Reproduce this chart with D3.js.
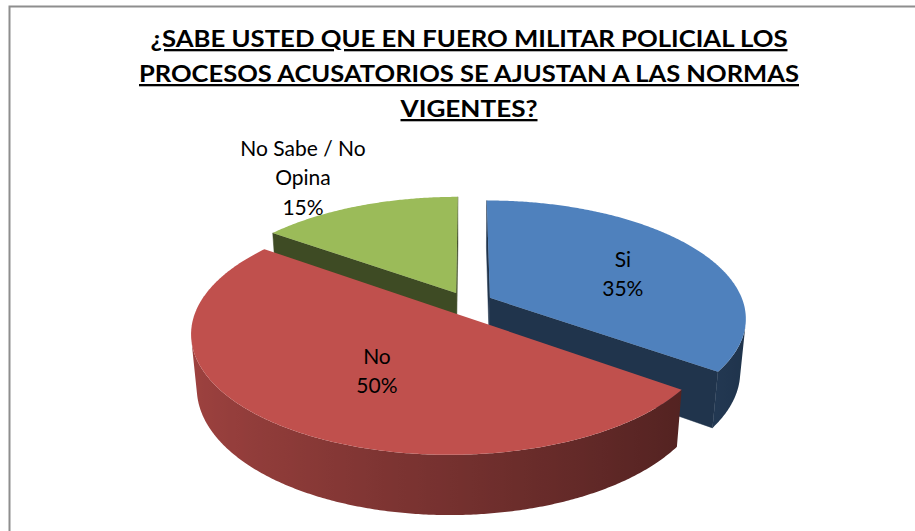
<!DOCTYPE html>
<html>
<head>
<meta charset="utf-8">
<script src="https://cdn.jsdelivr.net/npm/d3@7"></script>
<style>
  html, body { margin: 0; padding: 0; background: #fff; }
  svg { display: block; }
</style>
</head>
<body>
<div id="chart"></div>
<script>
// Survey answers, 3D exploded pie

const titleLines = [
    "¿SABE USTED QUE EN FUERO MILITAR POLICIAL LOS",
    "PROCESOS ACUSATORIOS SE AJUSTAN A LAS NORMAS",
    "VIGENTES?"
];
const categories = ["Si", "No", "No Sabe / No Opina"];
const categoryLines = [["Si"], ["No"], ["No Sabe / No", "Opina"]];
const values = [35, 50, 15];
const topColors = ["#4F81BD", "#C0504D", "#9BBB59"];

function createPieChart() {
    const width = 915, height = 531;

    d3.select("#chart").html("");

    const svg = d3.select("#chart")
        .append("svg")
        .attr("width", width)
        .attr("height", height);
    const defs = svg.append("defs");

    // chart area border (only left and top edges show in the crop)
    svg.append("rect")
        .attr("x", 9.5)
        .attr("y", 6.5)
        .attr("width", width + 20)
        .attr("height", height + 20)
        .attr("fill", "none")
        .attr("stroke", "#8e8e8e")
        .attr("stroke-width", 2);

    // Title, each line stretched to the width it has in the original
    const titleWidths = [637, 660, 137];
    const title = svg.append("text")
        .attr("text-anchor", "middle")
        .style("font-family", "Lato, 'Open Sans', sans-serif")
        .style("font-size", "23px")
        .style("font-weight", "bold")
        .style("text-decoration", "underline")
        .attr("fill", "#000");
    titleLines.forEach((t, i) => {
        title.append("tspan")
            .attr("x", 469)
            .attr("y", 47 + i * 35)
            .attr("textLength", titleWidths[i])
            .attr("lengthAdjust", "spacingAndGlyphs")
            .text(t);
    });

    // projection of the tilted pie (unit radius) onto the page
    const view = {cx: 467.5, cy: 303, f: 1357, dist: 5.35, tilt: 27 * Math.PI / 180, depth: 0.2376, explode: 0.1};
    const sinT = Math.sin(view.tilt), cosT = Math.cos(view.tilt);
    function project(X, Y, Z) {
        const yc = Y * cosT + Z * sinT;
        const zc = view.dist + Z * cosT - Y * sinT;
        return [view.cx + view.f * X / zc, view.cy - view.f * yc / zc];
    }

    const pie = d3.pie().sort(null).value(d => d)(values);
    const total = d3.sum(values);
    const pct = d3.format(".0%");

    const slices = pie.map((p, i) => {
        const mid = (p.startAngle + p.endAngle) / 2;
        return {
            i: i,
            a0: p.startAngle,
            a1: p.endAngle,
            mid: mid,
            ox: view.explode * Math.sin(mid),
            oz: view.explode * Math.cos(mid)
        };
    });

    const line = d3.line();
    const shade = (c, k) => {
        const col = d3.rgb(c);
        return d3.rgb(col.r * k, col.g * k, col.b * k).formatHex();
    };
    const wallLight = a => Math.max(0.3, Math.min(0.9, 0.61 - 0.22 * Math.sin(a)));

    function rim(s, a, top) {
        return project(s.ox + Math.sin(a), top ? 0 : -view.depth, s.oz + Math.cos(a));
    }
    function hub(s, top) {
        return project(s.ox, top ? 0 : -view.depth, s.oz);
    }

    // paint back slices first
    const order = slices.slice().sort((a, b) => b.oz - a.oz);

    order.forEach(s => {
        const g = svg.append("g").attr("class", "slice");
        const base = topColors[s.i];
        const n = Math.max(2, Math.ceil((s.a1 - s.a0) / (Math.PI / 360)));
        const angles = d3.range(n + 1).map(k => s.a0 + (s.a1 - s.a0) * k / n);

        // cut faces
        const startFace = [hub(s, true), rim(s, s.a0, true), rim(s, s.a0, false), hub(s, false)];
        const endFace = [hub(s, true), hub(s, false), rim(s, s.a1, false), rim(s, s.a1, true)];
        [startFace, endFace].forEach(face => {
            if (d3.polygonArea(face) > 0) {
                g.append("path")
                    .attr("d", line(face) + "Z")
                    .attr("fill", shade(base, 0.4))
                    .attr("stroke", shade(base, 0.4))
                    .attr("stroke-width", 0.5);
            }
        });

        // outer wall: keep the strips that face the viewer
        const vis = [];
        for (let k = 0; k < n; k++) {
            const quad = [rim(s, angles[k], true), rim(s, angles[k + 1], true),
                          rim(s, angles[k + 1], false), rim(s, angles[k], false)];
            if (d3.polygonArea(quad) > 0) vis.push(k);
        }
        if (vis.length) {
            const wa = angles.slice(vis[0], vis[vis.length - 1] + 2);
            const topArc = wa.map(a => rim(s, a, true));
            const botArc = wa.map(a => rim(s, a, false)).reverse();
            const xs = topArc.map(p => p[0]);
            const x1 = xs[0], x2 = xs[xs.length - 1];
            const gid = "wall" + s.i;
            const grad = defs.append("linearGradient")
                .attr("id", gid)
                .attr("gradientUnits", "userSpaceOnUse")
                .attr("x1", x1).attr("y1", 0)
                .attr("x2", x2 === x1 ? x1 + 1 : x2).attr("y2", 0);
            wa.forEach((a, j) => {
                if (j % 4 !== 0 && j !== wa.length - 1) return;
                grad.append("stop")
                    .attr("offset", x2 === x1 ? 0 : (xs[j] - x1) / (x2 - x1))
                    .attr("stop-color", shade(base, wallLight(a)));
            });
            g.append("path")
                .attr("d", line(topArc.concat(botArc)) + "Z")
                .attr("fill", `url(#${gid})`);
        }

        // top face
        const topPts = [hub(s, true)].concat(angles.map(a => rim(s, a, true)));
        g.append("path")
            .attr("d", line(topPts) + "Z")
            .attr("fill", base);
    });

    // data labels
    const labelLayout = [
        {r: 0.62, dx: 1, dy: 7},
        {r: 0.45, dx: -2, dy: 13},
        {r: 1.25, dx: -35, dy: -9.5}
    ];
    slices.forEach(s => {
        const L = labelLayout[s.i];
        const pos = project(s.ox + L.r * Math.sin(s.mid), 0, s.oz + L.r * Math.cos(s.mid));
        const lines = categoryLines[s.i].concat([pct(values[s.i] / total)]);
        const text = svg.append("text")
            .attr("text-anchor", "middle")
            .style("font-family", "Lato, 'Open Sans', sans-serif")
            .style("font-size", "21px")
            .attr("fill", "#000");
        const y0 = pos[1] + L.dy - (lines.length - 1) * 15 + 7.5;
        lines.forEach((t, j) => {
            text.append("tspan")
                .attr("x", pos[0] + L.dx)
                .attr("y", y0 + j * 29.5)
                .text(t);
        });
    });
}

document.addEventListener('DOMContentLoaded', createPieChart);
</script>
</body>
</html>
